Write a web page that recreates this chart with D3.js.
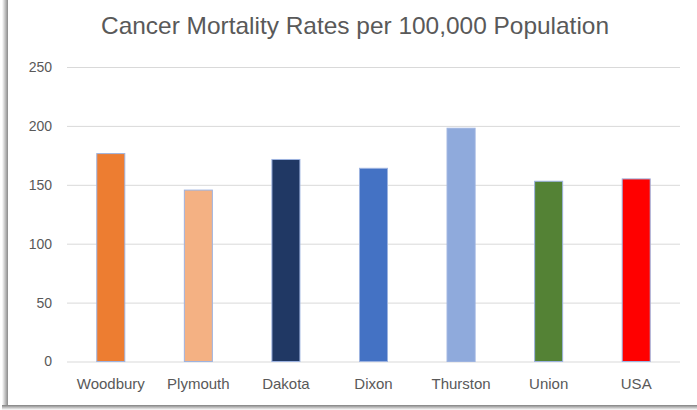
<!DOCTYPE html>
<html><head><meta charset="utf-8">
<script src="https://cdn.jsdelivr.net/npm/d3@7"></script>
<style>body{margin:0;background:#fff;}svg{display:block;}</style>
</head><body>
<script>
const categories = ["Woodbury","Plymouth","Dakota","Dixon","Thurston","Union","USA"];
const values = [176.5, 145.5, 171.5, 164, 198, 153, 155];
const colors = ["#ED7D31","#F4B183","#203864","#4472C4","#8FAADC","#548235","#FF0000"];
const yTicks = [0,50,100,150,200,250];
const title = "Cancer Mortality Rates per 100,000 Population";

const W = 697, H = 410;
const svg = d3.select("body").append("svg").attr("width", W).attr("height", H);

// frame with shadow
const defs = svg.append("defs");
const lg = defs.append("linearGradient").attr("id","shL").attr("x1","0").attr("x2","1");
lg.append("stop").attr("offset","0").attr("stop-color","#fff");
lg.append("stop").attr("offset","1").attr("stop-color","#8a8a8a");
const bg = defs.append("linearGradient").attr("id","shB").attr("x1","0").attr("x2","0").attr("y1","0").attr("y2","1");
bg.append("stop").attr("offset","0").attr("stop-color","#808080");
bg.append("stop").attr("offset","1").attr("stop-color","#fff");
svg.append("rect").attr("x",2).attr("y",0).attr("width",6).attr("height",H).attr("fill","url(#shL)");
svg.append("rect").attr("x",2).attr("y",405).attr("width",W).attr("height",5).attr("fill","url(#shB)");
svg.append("rect").attr("x",8).attr("y",0).attr("width",W-8).attr("height",405).attr("fill","#fff");

const x = d3.scaleBand().domain(categories).range([67, 680]).paddingInner(0.68).paddingOuter(0.34);
const y = d3.scaleLinear().domain([0, 250]).range([361.5, 67]);

const t = svg.append("text").attr("x", 355).attr("y", 34).attr("text-anchor","middle")
  .attr("font-family","Liberation Sans, Arial, sans-serif").attr("font-size",24)
  .attr("fill","#595959").text(title);
const tl = t.node().getComputedTextLength();
if (tl > 0) t.attr("textLength", 508).attr("lengthAdjust","spacingAndGlyphs");

const yAxis = d3.axisLeft(y).tickValues(yTicks).tickSize(-(680-67)).tickPadding(10);
const gy = svg.append("g").attr("transform","translate(67,0)").call(yAxis);
gy.select(".domain").remove();
gy.selectAll(".tick line").attr("stroke","#D9D9D9").attr("stroke-width",1);
gy.selectAll(".tick text").attr("fill","#595959").attr("font-size",14)
  .attr("font-family","Liberation Sans, Arial, sans-serif").attr("x",-15);

const xAxis = d3.axisBottom(x).tickSize(0).tickPadding(15);
const gx = svg.append("g").attr("transform","translate(0,363)").call(xAxis);
gx.select(".domain").remove();
gx.selectAll(".tick text").attr("fill","#595959").attr("font-size",15)
  .attr("font-family","Liberation Sans, Arial, sans-serif");

svg.append("g").selectAll("rect").data(values).join("rect")
  .attr("x",(d,i)=>x(categories[i]))
  .attr("width",x.bandwidth())
  .attr("y",d=>y(d))
  .attr("height",d=>y(0)-y(d))
  .attr("fill",(d,i)=>colors[i])
  .attr("stroke","#9DB3E0").attr("stroke-width",1);
</script>
</body></html>
